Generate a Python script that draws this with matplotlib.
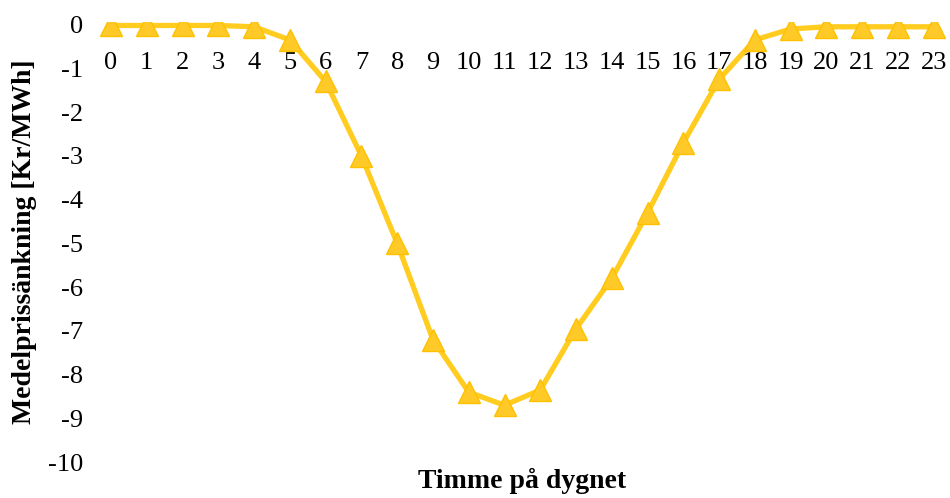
import matplotlib.pyplot as plt

# Average price decrease per hour of day
hours = list(range(24))
price_drop = [-0.02, -0.02, -0.02, -0.02, -0.05, -0.35, -1.3, -3.0, -5.0, -7.2,
              -8.4, -8.7, -8.35, -6.95, -5.8, -4.3, -2.7, -1.25, -0.35, -0.1,
              -0.05, -0.05, -0.05, -0.05]
y_ticks = list(range(0, -11, -1))

plt.rcParams['font.family'] = ['Liberation Serif', 'DejaVu Serif']

fig, ax = plt.subplots(figsize=(9.5, 4.98), dpi=100)
fig.subplots_adjust(left=0.098, right=0.998, top=0.955, bottom=0.072)

ax.plot(hours, price_drop, color='#FFCC1F', linewidth=3.8, marker='^',
        markersize=15.5, markerfacecolor='#FFCA28', markeredgecolor='#FFC000',
        markeredgewidth=1, zorder=3, solid_joinstyle='round')

ax.set_ylim(-10, 0.05)
ax.set_xlim(-0.5, 23.4)
ax.set_yticks(y_ticks)
ax.set_yticklabels([str(v) for v in y_ticks])
ax.set_xticks(hours)
ax.set_xticklabels([str(h) for h in hours])

# x axis sits on the zero line, labels just under it
ax.spines['bottom'].set_position(('data', 0))
for s in ax.spines.values():
    s.set_visible(False)
ax.tick_params(axis='both', length=0, labelsize=19)
ax.tick_params(axis='x', pad=20)
ax.tick_params(axis='y', pad=7)

fig.text(25 / 950, 0.514, 'Medelprissänkning [Kr/MWh]', rotation=90,
         ha='center', va='center', fontsize=20, fontweight='bold')
fig.text(522 / 950, 0.008, 'Timme på dygnet',
         ha='center', va='bottom', fontsize=20, fontweight='bold')

fig.savefig('out.png', dpi=100)
